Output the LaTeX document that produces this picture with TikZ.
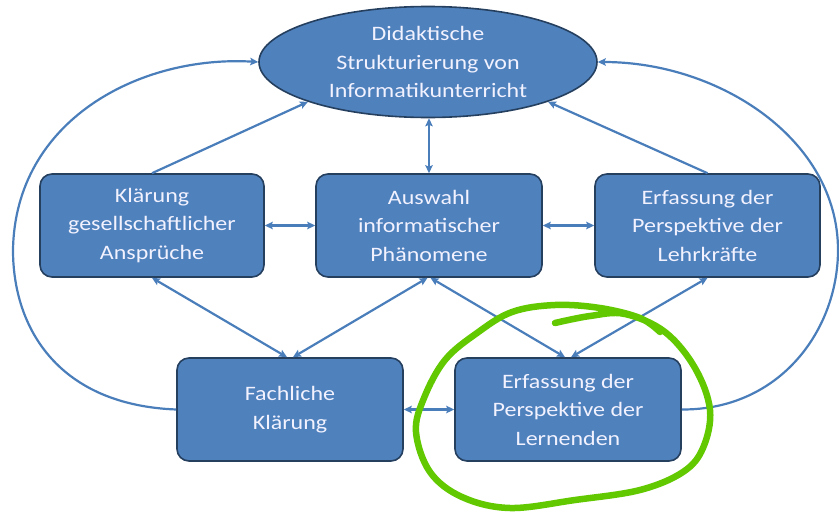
\documentclass[tikz,border=0pt]{standalone}
\usepackage{fontspec}
\setmainfont[FakeStretch=1.17]{Carlito}
\usetikzlibrary{shapes.geometric,arrows.meta}
\definecolor{boxfill}{HTML}{4F81BD}
\definecolor{boxedge}{HTML}{253F5F}
\definecolor{linkc}{HTML}{4A7EBB}
\definecolor{marker}{HTML}{62C800}
\tikzset{
  txt/.style={text=white!95!blue, font=\fontsize{20.5}{28.5}\selectfont, align=center},
  boxn/.style={txt, draw=boxedge, line width=1.6pt, fill=boxfill, rounded corners=12pt, minimum height=103pt, inner sep=0pt},
  ellnode/.style={txt, ellipse, draw=boxedge, line width=1.6pt, fill=boxfill, minimum width=338pt, minimum height=111pt, inner sep=0pt},
  link/.style={draw=linkc, line width=2.2pt},
  tip/.tip={Stealth[length=8pt,width=7.5pt,inset=1.5pt]},
  both/.style={link, tip-tip},
  one/.style={link, -tip},
}
\begin{document}
\begin{tikzpicture}[x=1pt,y=-1pt]
\useasboundingbox (0,0) rectangle (839,517);
\node[ellnode] (ell) at (428,62) {Didaktische\\Strukturierung von\\Informatikunterricht};
\node[boxn, minimum width=224pt] (kl) at (152,225.5) {Klärung\\gesellschaftlicher\\Ansprüche};
\node[boxn, minimum width=226pt] (aus) at (429,225.5) {Auswahl\\informatischer\\Phänomene};
\node[boxn, minimum width=225pt] (leh) at (707.5,225.5) {Erfassung der\\Perspektive der\\Lehrkräfte};
\node[boxn, minimum width=226pt] (fach) at (290,409.5) {Fachliche\\Klärung};
\node[boxn, minimum width=226pt] (lern) at (568,409.5) {Erfassung der\\Perspektive der\\Lernenden};

\draw[both] (ell.south -| aus.north) -- (aus.north);
\draw[one] (kl.north) -- (ell.south west);
\draw[one] (leh.north) -- (ell.south east);
\draw[both] (kl.east) -- (aus.west);
\draw[both] (aus.east) -- (leh.west);
\draw[both] (kl.south) -- ([xshift=-3pt]fach.north);
\draw[both] ([xshift=-1.5pt]aus.south) -- ([xshift=3pt]fach.north);
\draw[both] ([xshift=1.5pt]aus.south) -- ([xshift=-3pt]lern.north);
\draw[both] (leh.south) -- ([xshift=3pt]lern.north);
\draw[both] (fach.east) -- (lern.west);
\draw[one] (fach.west) .. controls (60,405) and (13,330) .. (13,250)
  .. controls (15,120) and (140,55) .. (ell.west);
\draw[one] (lern.east) .. controls (780,410) and (838,330) .. (838,250)
  .. controls (838,140) and (720,62) .. (ell.east);

\draw[marker, line width=6.5pt, line cap=round, line join=round]
  plot[smooth, tension=0.6] coordinates {
  (555,323) (590,316) (625,314) (665,332) (695,368) (710,410) (703,448)
  (683,472) (640,490) (575,500) (510,508) (462,497) (430,472) (416,432)
  (424,398) (445,360) (477,333) (512,312) (555,305) (600,308) (640,318) (660,332)};
\end{tikzpicture}
\end{document}
